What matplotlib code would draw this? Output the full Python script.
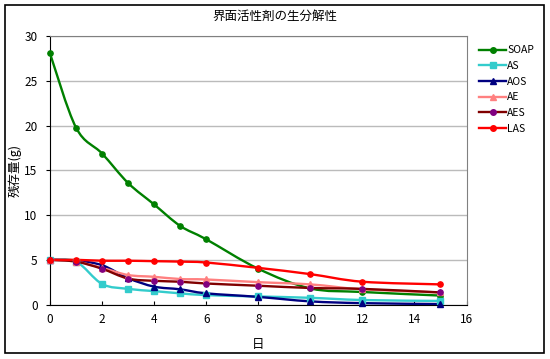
import numpy as np
import matplotlib
matplotlib.use("Agg")
import matplotlib.pyplot as plt
from matplotlib.path import Path
from matplotlib.patches import PathPatch, Rectangle
from matplotlib.lines import Line2D

plt.rcParams['font.family'] = ['Noto Sans CJK JP', 'DejaVu Sans']

days = [0, 1, 2, 3, 4, 5, 6, 8, 10, 12, 15]
soap = [28.1, 19.8, 16.9, 13.6, 11.2, 8.8, 7.3, 4.0, 1.8, 1.4, 1.0]
as_ = [5.0, 4.8, 2.3, 1.75, 1.5, 1.25, 1.05, 0.9, 0.75, 0.5, 0.4]
aos = [5.0, 4.9, 4.4, 2.95, 2.0, 1.7, 1.25, 0.85, 0.35, 0.15, 0.05]
ae = [5.0, 4.8, 4.1, 3.3, 3.1, 2.85, 2.8, 2.5, 2.25, 1.7, 1.35]
aes = [5.0, 4.8, 4.0, 2.9, 2.65, 2.55, 2.35, 2.1, 1.85, 1.75, 1.35]
las = [5.0, 5.0, 4.9, 4.9, 4.85, 4.8, 4.7, 4.1, 3.4, 2.55, 2.25]

series = [
    ("SOAP", soap, "#008000", "#008000", "o"),
    ("AS", as_, "#33CCCC", "#33CCCC", "s"),
    ("AOS", aos, "#000080", "#000080", "^"),
    ("AE", ae, "#FF8080", "#FF8080", "^"),
    ("AES", aes, "#800000", "#800080", "o"),
    ("LAS", las, "#FF0000", "#FF0000", "o"),
]


def smooth_path(x, y):
    # excel-like smoothed line: cubic bezier through the points
    x = np.asarray(x, float)
    y = np.asarray(y, float)
    n = len(x)
    verts = [(x[0], y[0])]
    codes = [Path.MOVETO]
    for i in range(n - 1):
        p0 = np.array([x[max(i - 1, 0)], y[max(i - 1, 0)]])
        p1 = np.array([x[i], y[i]])
        p2 = np.array([x[i + 1], y[i + 1]])
        p3 = np.array([x[min(i + 2, n - 1)], y[min(i + 2, n - 1)]])
        c1 = p1 + (p2 - p0) / 6.0
        c2 = p2 - (p3 - p1) / 6.0
        verts += [tuple(c1), tuple(c2), tuple(p2)]
        codes += [Path.CURVE4] * 3
    return Path(verts, codes)


fig = plt.figure(figsize=(5.5, 3.59), dpi=100)
fig.patches.append(Rectangle((5 / 550, 1 - 353 / 359), 539 / 550, 348 / 359,
                             transform=fig.transFigure, fill=False,
                             edgecolor="black", linewidth=1.2))

ax = fig.add_axes([50 / 550, 1 - 304.5 / 359, 416.5 / 550, 268 / 359])

for name, vals, lc, mc, mk in series:
    ax.add_patch(PathPatch(smooth_path(days, vals), facecolor="none",
                           edgecolor=lc, linewidth=1.7, zorder=3))
    ax.plot(days, vals, linestyle="none", marker=mk, markersize=3.8,
            color=mc, zorder=4, clip_on=False)

ax.set_xlim(0, 16)
ax.set_ylim(0, 30)
ax.set_xticks(range(0, 17, 2))
ax.set_yticks(range(0, 31, 5))
ax.yaxis.grid(True, color="#BBBBBB", linewidth=1)
ax.set_axisbelow(True)
for s in ["top", "right"]:
    ax.spines[s].set_color("#808080")
for s in ["left", "bottom"]:
    ax.spines[s].set_color("black")
ax.tick_params(labelsize=8.5, length=3, color="black", pad=6)
ax.tick_params(axis="x", direction="in")

ax.set_xlabel("日", fontsize=9)
ax.xaxis.set_label_coords(0.5, -0.125)
ax.set_ylabel("残存量(g)", fontsize=9)
ax.yaxis.set_label_coords(-28 / 416.5, 0.5)
fig.text(275 / 550, 1 - 16 / 359, "界面活性剤の生分解性", ha="center",
         va="center", fontsize=9)

handles = [Line2D([], [], color=lc, marker=mk, markerfacecolor=mc,
                  markeredgecolor=mc, markersize=4, linewidth=1.7)
           for name, vals, lc, mc, mk in series]
fig.legend(handles, [s[0] for s in series], loc="upper left",
           bbox_to_anchor=(475 / 550, 1 - 41 / 359), frameon=False,
           fontsize=7.5, handlelength=2.6, handletextpad=0.1,
           labelspacing=0.55, borderaxespad=0)

fig.savefig("out.png", dpi=100)
